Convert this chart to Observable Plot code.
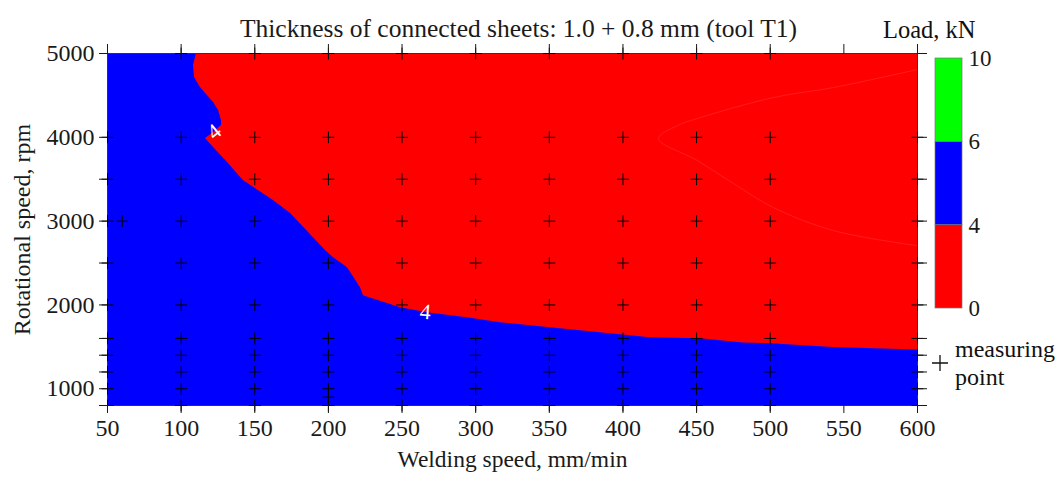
<!DOCTYPE html>
<html><head><meta charset="utf-8">
<script src="https://cdn.jsdelivr.net/npm/d3@7"></script>
<script src="https://cdn.jsdelivr.net/npm/@observablehq/plot@0.6"></script>
<style>
html,body{margin:0;padding:0;background:#fff;}
#wrap{position:relative;width:1061px;height:483px;font-family:"Liberation Serif","Times New Roman",serif;color:#111;overflow:hidden;}
.abs{position:absolute;white-space:nowrap;}
</style></head><body><div id="wrap"></div>
<script>
// ---- data ----
const title = "Thickness of connected sheets: 1.0 + 0.8 mm (tool T1)";
const xLabel = "Welding speed, mm/min";
const yLabel = "Rotational speed, rpm";
const xDomain = [50, 600];
const yDomain = [800, 5000];
const xTicks = [50, 100, 150, 200, 250, 300, 350, 400, 450, 500, 550, 600];
const yTicks = [800, 1000, 1200, 1400, 1600, 2000, 2500, 3000, 3500, 4000, 5000];
const yLabeled = [1000, 2000, 3000, 4000, 5000];

// 4 kN contour (boundary between red <4 and blue 4-6)
const boundaryX = [110.4, 108.4, 109.1, 113.1, 122.0, 125.4, 127.4, 127.4, 121.3, 116.5, 122.0, 131.5, 142.3, 162.7, 174.3, 189.9, 198.0, 203.5, 213.0, 221.8, 223.8, 249.0, 267.3, 294.4, 316.9, 350.8, 384.8, 418.7, 452.7, 481.9, 498.1, 542.9, 600];
const boundaryY = [5000, 4857, 4713, 4594, 4415, 4319, 4200, 4140, 4045, 3985, 3878, 3699, 3484, 3245, 3090, 2803, 2648, 2564, 2445, 2206, 2111, 1967, 1907, 1848, 1788, 1728, 1669, 1609, 1597, 1545, 1540, 1492, 1462];

// faint inner contour inside the red region
const faintX = [600, 543, 502.2, 452.7, 437, 424.1, 450.6, 475.1, 502.2, 543, 600];
const faintY = [4809, 4594, 4475, 4236, 4140, 3985, 3722, 3448, 3161, 2887, 2707];

// contour labels
const contourLabelX = [122.5, 265.9];
const contourLabelY = [4065, 1915];
const contourLabelText = ["4", "4"];
const contourLabelRotate = [-40, 5];

// measuring points
const gridSpeeds = [100, 150, 200, 250, 300, 350, 400, 450, 500];
const gridRpm = [800, 1000, 1200, 1400, 1600, 2000, 2500, 3000, 3500, 4000, 5000];
const edgeSpeeds = [50, 600];
const edgeRpm = [800, 1000, 1200, 1400, 1600, 2000, 2500, 3000, 3500, 4000];
const extraSpeeds = [60, 200];
const extraRpm = [3000, 900];

// legend
const legendLevels = [0, 4, 6, 10];
const legendColors = ["#ff0000", "#0000ff", "#00ff00"];
const legendTitle = "Load, kN";
const pointLegend = ["measuring", "point"];

// ---- build tables ----
const boundary = boundaryX.map((x, i) => ({x, y: boundaryY[i]}));
const faint = faintX.map((x, i) => ({x, y: faintY[i]}));
const contourLabels = contourLabelX.map((x, i) => ({x, y: contourLabelY[i], t: contourLabelText[i], r: contourLabelRotate[i]}));
const points = [
  ...gridSpeeds.flatMap(x => gridRpm.map(y => ({x, y}))),
  ...edgeSpeeds.flatMap(x => edgeRpm.map(y => ({x, y}))),
  ...extraSpeeds.map((x, i) => ({x, y: extraRpm[i]}))
];

const crossSymbol = {
  draw(ctx, size) {
    const r = Math.sqrt(size / Math.PI) * 1.75;
    ctx.moveTo(-r, 0); ctx.lineTo(r, 0);
    ctx.moveTo(0, -r); ctx.lineTo(0, r);
  }
};

const FONT = '"Liberation Serif", "Times New Roman", serif';
const wrap = document.getElementById("wrap");
const tf = {fontFamily: FONT};

const main = Plot.plot({
  width: 1061, height: 483,
  marginLeft: 107, marginRight: 144, marginTop: 53, marginBottom: 78,
  style: {fontFamily: FONT, fontSize: "24px", color: "#1a1a1a", background: "transparent", overflow: "visible"},
  x: {domain: xDomain},
  y: {domain: yDomain},
  marks: [
    Plot.frame({fill: legendColors[1], stroke: null}),
    Plot.areaX(boundary, {y: "y", x1: "x", x2: xDomain[1], fill: legendColors[0], curve: "linear"}),
    Plot.line(faint, {x: "x", y: "y", stroke: "#ff1c1c", strokeWidth: 1, curve: "catmull-rom"}),
    Plot.frame({stroke: "#333", strokeWidth: 1}),
    Plot.dot(points, {x: "x", y: "y", symbol: crossSymbol, r: 3.4, stroke: "#000", fill: "none", strokeWidth: 1}),
    Plot.text(contourLabels, {x: "x", y: "y", text: "t", rotate: "r", fill: "white", fontSize: 22, ...tf}),
    Plot.axisX({anchor: "bottom", ticks: xTicks, tickSize: 8, tickPadding: 5, label: null, fontSize: 24, ...tf}),
    Plot.axisX({anchor: "top", ticks: xTicks, tickSize: 10, tickFormat: () => "", label: null}),
    Plot.axisY({anchor: "left", ticks: yTicks, tickSize: 8, tickPadding: 5, tickFormat: d => yLabeled.includes(d) ? String(d) : "", label: null, fontSize: 24, ...tf}),
    Plot.axisY({anchor: "right", ticks: yTicks, tickSize: 9, tickFormat: () => "", label: null}),
    Plot.text([title], {text: d => d, frameAnchor: "top", dy: -35, dx: 6, fontSize: 25.5, ...tf}),
    Plot.text([xLabel], {text: d => d, frameAnchor: "bottom", dy: 61, fontSize: 23.5, ...tf}),
    Plot.text([yLabel], {text: d => d, frameAnchor: "left", textAnchor: "middle", dx: -85, rotate: -90, fontSize: 24, ...tf})
  ]
});
main.style.position = "absolute";
main.style.left = "0px";
main.style.top = "0px";
wrap.appendChild(main);

// colour bar
const bar = Plot.plot({
  width: 80, height: 330,
  marginTop: 58, marginBottom: 22, marginLeft: 5, marginRight: 48,
  style: {fontFamily: FONT, fontSize: "23px", color: "#1a1a1a", background: "transparent", overflow: "visible"},
  x: {domain: [0, 1], axis: null},
  y: {domain: [0, legendColors.length], axis: null},
  color: {type: "identity"},
  marks: [
    Plot.rect(legendColors.map((c, i) => ({c, i})), {x1: 0, x2: 1, y1: "i", y2: d => d.i + 1, fill: "c", stroke: "#777", strokeWidth: 0.7}),
    Plot.text(legendLevels.map((v, i) => ({v, i})), {x: 1, y: "i", text: "v", dx: 6, textAnchor: "start", fontSize: 23, ...tf})
  ]
});
bar.style.position = "absolute";
bar.style.left = "930px";
bar.style.top = "0px";
wrap.appendChild(bar);

function addText(txt, left, top, size) {
  const d = document.createElement("div");
  d.className = "abs";
  d.textContent = txt;
  d.style.left = left + "px";
  d.style.top = top + "px";
  d.style.fontSize = size + "px";
  d.style.lineHeight = size + "px";
  wrap.appendChild(d);
}
addText(legendTitle, 883, 18, 24.5);
addText(pointLegend[0], 955, 337, 24);
addText(pointLegend[1], 955, 365, 24);

const plusSvg = document.createElementNS("http://www.w3.org/2000/svg", "svg");
plusSvg.setAttribute("width", 18); plusSvg.setAttribute("height", 18);
plusSvg.style.position = "absolute"; plusSvg.style.left = "931px"; plusSvg.style.top = "354px";
plusSvg.innerHTML = '<path d="M1,9H17M9,1V17" stroke="#111" stroke-width="1.3" fill="none"/>';
wrap.appendChild(plusSvg);
</script></body></html>
